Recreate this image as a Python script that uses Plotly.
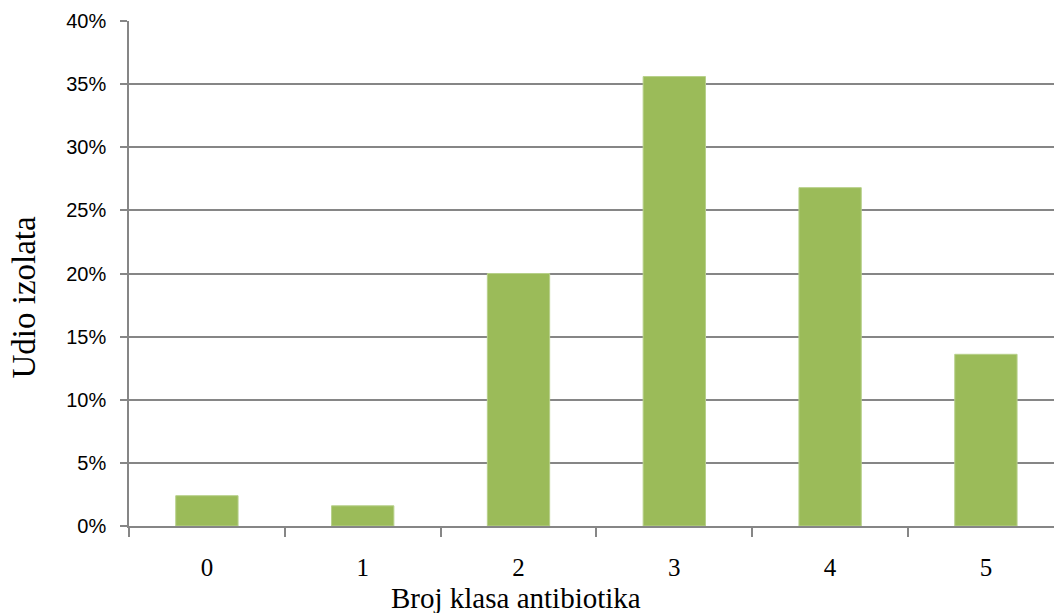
import plotly.graph_objects as go

categories = ["0", "1", "2", "3", "4", "5"]
values = [0.024, 0.016, 0.200, 0.356, 0.268, 0.136]
y_ticks = [0, 0.05, 0.10, 0.15, 0.20, 0.25, 0.30, 0.35, 0.40]
y_labels = ["0%", "5%", "10%", "15%", "20%", "25%", "30%", "35%", "40%"]
x_title = "Broj klasa antibiotika"
y_title = "Udio izolata"

fig = go.Figure()
fig.add_trace(go.Bar(
    x=categories, y=values,
    marker=dict(color="#9BBB59", line=dict(color="#B7D08A", width=1)),
    width=0.4,
))

fig.update_layout(
    width=1054, height=613,
    margin=dict(l=129, r=0, t=21, b=87),
    paper_bgcolor="white", plot_bgcolor="white",
    showlegend=False,
    xaxis=dict(
        type="category", range=[-0.5, 5.437],
        showgrid=False, showline=True, linecolor="#868686", linewidth=1.5,
        ticks="outside", tickson="boundaries", ticklen=9, tickcolor="#868686", tickwidth=1.5,
        ticklabelstandoff=18,
        tickfont=dict(family="Liberation Serif", size=25, color="black"),
    ),
    yaxis=dict(
        range=[0, 0.4], tickvals=y_ticks, ticktext=y_labels,
        showgrid=True, gridcolor="#868686", gridwidth=1.5,
        showline=True, linecolor="#868686", linewidth=1.5,
        ticks="outside", ticklen=7, tickcolor="#868686", tickwidth=1.5,
        ticklabelstandoff=10,
        tickfont=dict(family="Liberation Sans", size=20, color="black"),
        zeroline=False,
    ),
    annotations=[
        dict(text=x_title, xref="paper", yref="paper", x=0.418, y=-0.142,
             xanchor="center", yanchor="middle", showarrow=False,
             font=dict(family="Liberation Serif", size=29, color="black")),
        dict(text=y_title, xref="paper", yref="paper", x=-0.114, y=0.4535,
             xanchor="center", yanchor="middle", showarrow=False, textangle=-90,
             font=dict(family="Liberation Serif", size=33, color="black")),
    ],
)

fig.write_html("out.html", config={"displayModeBar": False},
               post_script="document.body.style.margin='0';")
